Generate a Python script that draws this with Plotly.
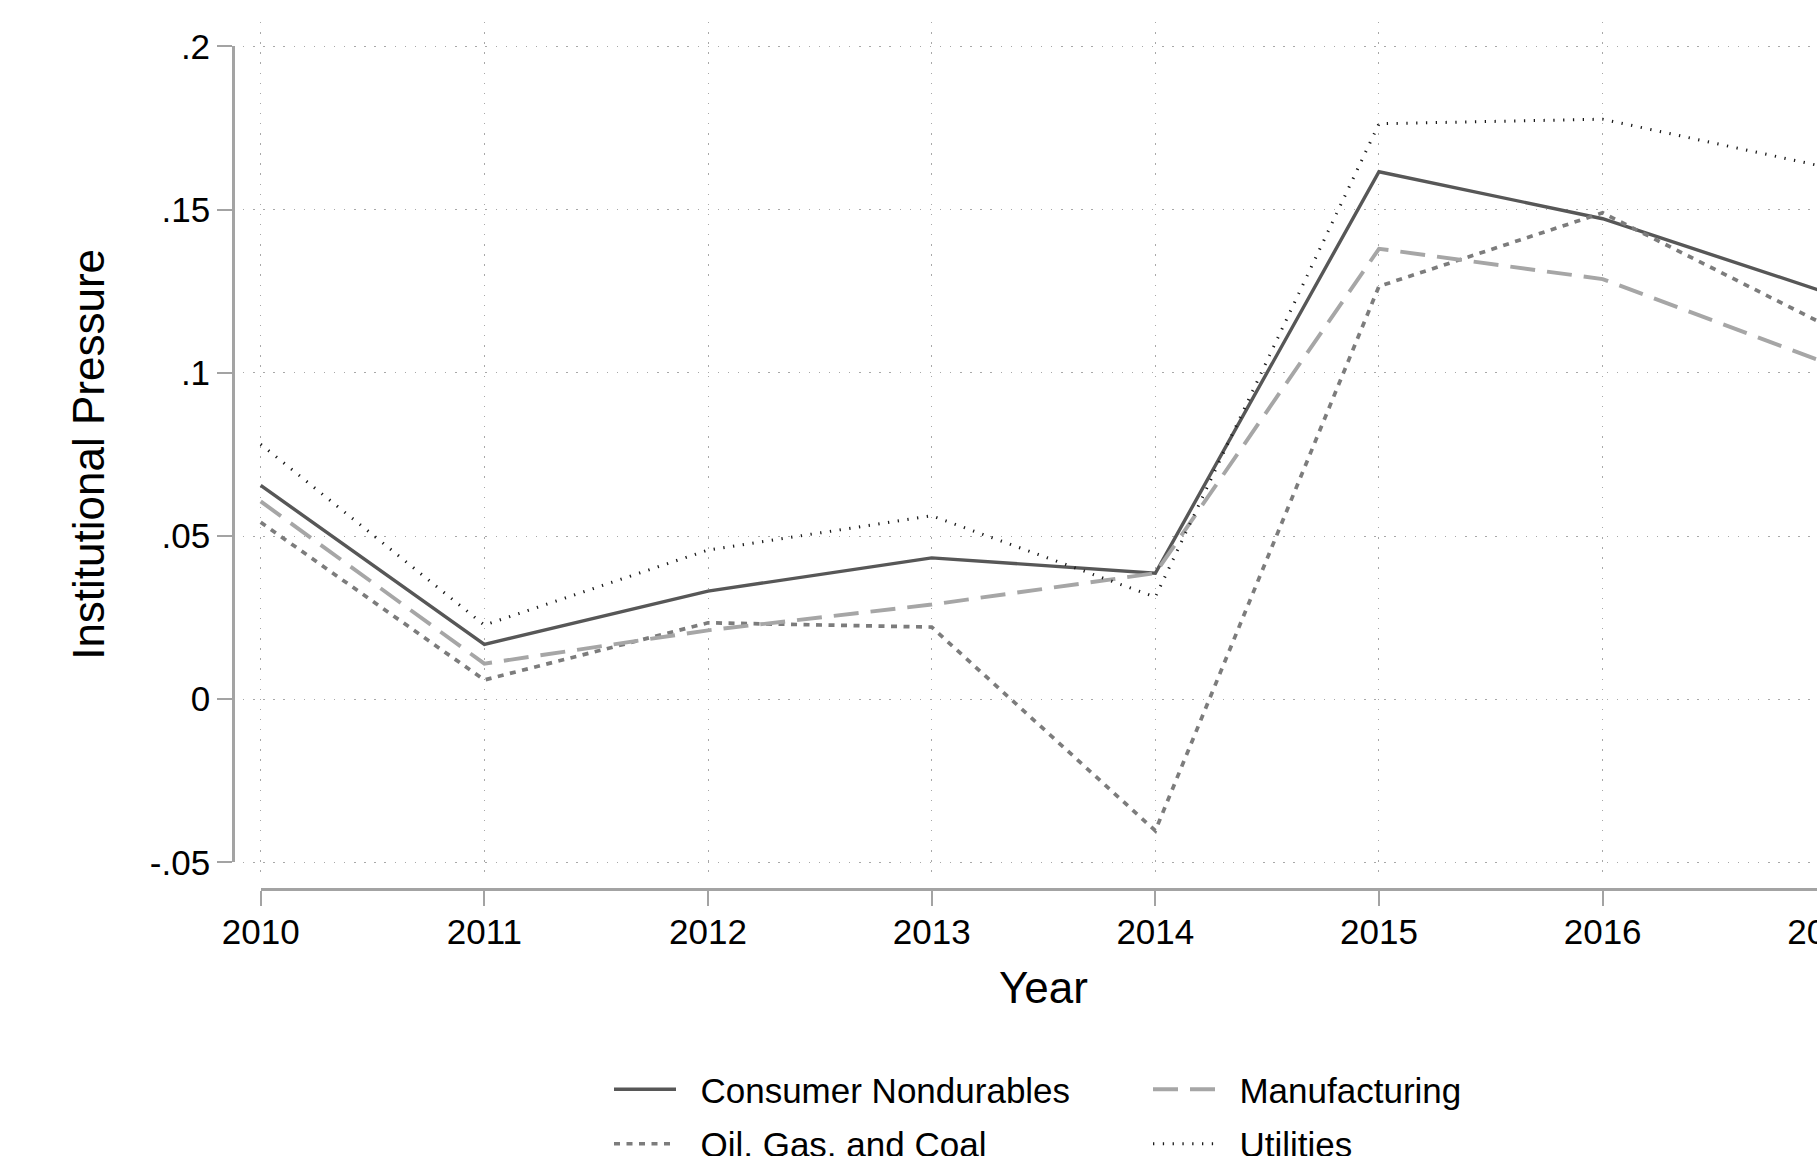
import plotly.graph_objects as go

# ---------------- data ----------------
years = [2010, 2011, 2012, 2013, 2014, 2015, 2016, 2017]
consumer_nondurables = [0.0655, 0.0168, 0.0331, 0.0433, 0.0386, 0.1616, 0.1472, 0.1246]
manufacturing = [0.0606, 0.0109, 0.0211, 0.0290, 0.0386, 0.1380, 0.1287, 0.1030]
oil_gas_coal = [0.0542, 0.0059, 0.0234, 0.0221, -0.0403, 0.1265, 0.1490, 0.1145]
utilities = [0.0781, 0.0227, 0.0457, 0.0562, 0.0313, 0.1763, 0.1777, 0.1630]

y_ticks = [-0.05, 0, 0.05, 0.1, 0.15, 0.2]
y_tick_labels = ["-.05", "0", ".05", ".1", ".15", ".2"]
x_ticks = years
x_tick_labels = [str(y) for y in years]

# ---------------- geometry (pixels) ----------------
W, H = 1900, 1200
X_LO_PX, X_HI_PX = 260.7, 1826.3      # pixel of first / last year
Y_HI_PX, Y_LO_PX = 46.4, 862.4        # pixel of .2 / -.05
PLOT_L, PLOT_R, PLOT_T, PLOT_B = 243, 1844, 22, 877
XAXIS_LINE_Y = 888.8
YAXIS_LINE_X = 232.9

x0, x1 = years[0], years[-1]
ylo, yhi = y_ticks[0], y_ticks[-1]
ppx = (X_HI_PX - X_LO_PX) / (x1 - x0)
ppy = (Y_LO_PX - Y_HI_PX) / (yhi - ylo)
x_range = [x0 - (X_LO_PX - PLOT_L) / ppx, x1 + (PLOT_R - X_HI_PX) / ppx]
y_range = [ylo - (PLOT_B - Y_LO_PX) / ppy, yhi + (Y_HI_PX - PLOT_T) / ppy]


def fx(px):
    return px / W


def fy(py):
    return 1 - py / H


FONT = "Liberation Sans, Arial, Helvetica, sans-serif"
AXIS_GRAY = "#a3a3a3"
GRID_GRAY = "#a8a8a8"
PAD = "\u00a0\u00a0"   # gap between legend key and label

fig = go.Figure()

series = [
    ("Consumer Nondurables", consumer_nondurables, "#575757", 3.4, "solid", "legend"),
    ("Oil, Gas, and Coal", oil_gas_coal, "#7c7c7c", 3.7, "6px,6.5px", "legend"),
    ("Manufacturing", manufacturing, "#a6a6a6", 3.9, "25px,12px", "legend2"),
    ("Utilities", utilities, "#1a1a1a", 3.0, "1.3px,8.5px", "legend2"),
]
for name, vals, color, width, dash, leg in series:
    fig.add_trace(go.Scatter(
        x=years, y=vals, name=PAD + name, mode="lines",
        line=dict(color=color, width=width, dash=dash),
        legend=leg, legendgroup=name, xaxis="x", yaxis="y",
        hoverinfo="skip",
    ))

# invisible trace that carries the offset (Stata-style) axes
fig.add_trace(go.Scatter(x=years, y=consumer_nondurables, mode="none",
                         xaxis="x2", yaxis="y2", showlegend=False, hoverinfo="skip"))

fig.update_layout(
    width=W, height=H,
    margin=dict(l=0, r=0, t=0, b=0),
    paper_bgcolor="white", plot_bgcolor="rgba(0,0,0,0)",
    font=dict(family=FONT, color="black"),
    xaxis=dict(
        domain=[fx(PLOT_L), fx(PLOT_R)], range=x_range, anchor="y",
        tickmode="array", tickvals=x_ticks, showticklabels=False, ticks="",
        showgrid=True, gridcolor=GRID_GRAY, gridwidth=1.4, griddash="1.4px,8.7px",
        showline=False, zeroline=False, automargin=False,
    ),
    yaxis=dict(
        domain=[fy(PLOT_B), fy(PLOT_T)], range=y_range, anchor="x",
        tickmode="array", tickvals=y_ticks, showticklabels=False, ticks="",
        showgrid=True, gridcolor=GRID_GRAY, gridwidth=1.4, griddash="1.4px,8.7px",
        showline=False, zeroline=False, automargin=False,
    ),
    xaxis2=dict(
        domain=[fx(X_LO_PX), fx(X_HI_PX)], range=[x0, x1],
        anchor="free", position=fy(XAXIS_LINE_Y),
        tickmode="array", tickvals=x_ticks, ticktext=x_tick_labels,
        ticks="outside", ticklen=15, tickwidth=2.4, tickcolor=AXIS_GRAY,
        ticklabelstandoff=-4,
        showline=True, linecolor=AXIS_GRAY, linewidth=2.6,
        showgrid=False, zeroline=False, automargin=False,
        tickfont=dict(size=35, family=FONT, color="black"),
        title=dict(text="Year", font=dict(size=44, family=FONT, color="black"), standoff=22),
    ),
    yaxis2=dict(
        domain=[fy(Y_LO_PX), fy(Y_HI_PX)], range=[ylo, yhi],
        anchor="free", position=fx(YAXIS_LINE_X),
        tickmode="array", tickvals=y_ticks, ticktext=y_tick_labels,
        ticks="outside", ticklen=15, tickwidth=2.4, tickcolor=AXIS_GRAY,
        showline=True, linecolor=AXIS_GRAY, linewidth=2.6,
        showgrid=False, zeroline=False, automargin=False,
        tickfont=dict(size=35, family=FONT, color="black"),
        title=dict(text="Institutional Pressure", font=dict(size=44, family=FONT, color="black"), standoff=30),
    ),
    legend=dict(
        x=fx(609), xanchor="left", y=fy(1060), yanchor="top",
        orientation="v", traceorder="grouped", tracegroupgap=6, itemwidth=62,
        font=dict(size=35, family=FONT, color="black"),
        bgcolor="rgba(0,0,0,0)", borderwidth=0,
    ),
    legend2=dict(
        x=fx(1148), xanchor="left", y=fy(1060), yanchor="top",
        orientation="v", traceorder="grouped", tracegroupgap=6, itemwidth=62,
        font=dict(size=35, family=FONT, color="black"),
        bgcolor="rgba(0,0,0,0)", borderwidth=0,
    ),
    showlegend=True,
)

fig.write_html(
    "out.html",
    post_script="document.documentElement.style.overflow='hidden';"
                "document.body.style.overflow='hidden';document.body.style.margin='0';",
)
